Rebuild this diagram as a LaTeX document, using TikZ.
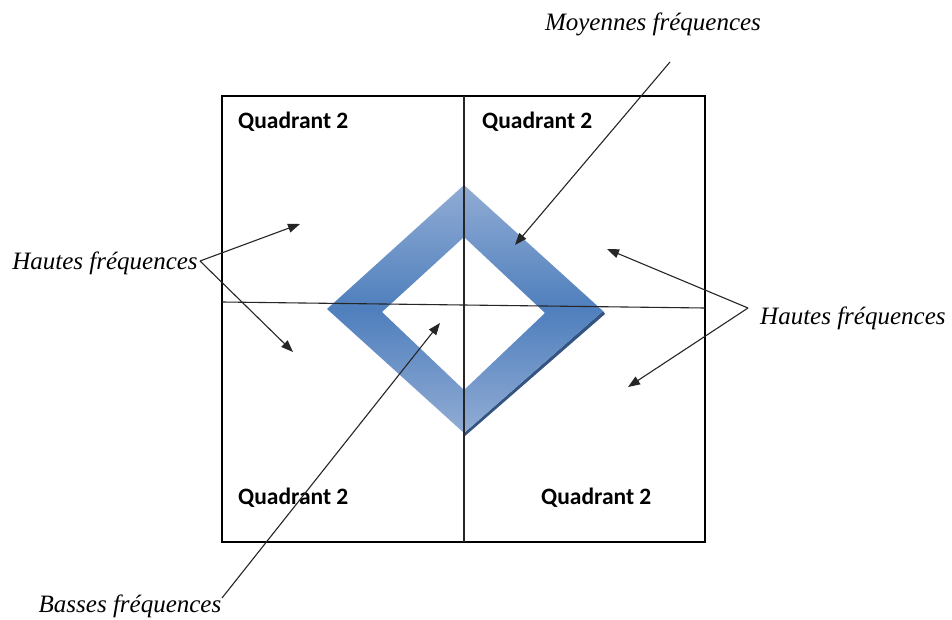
\documentclass[tikz,border=0pt]{standalone}
\usepackage{fontspec}
\setmainfont{Liberation Serif}
\newfontfamily\quadfont{Carlito}
\usetikzlibrary{arrows.meta}
\definecolor{ringlight}{RGB}{145,172,212}
\definecolor{ringdark}{RGB}{79,127,189}
\definecolor{ringshadow}{RGB}{52,84,130}
\tikzset{
  x=1pt, y=-1pt,
  frame/.style={draw=black, line width=1.1pt},
  axisline/.style={draw=black!85, line width=1.1pt},
  pointer/.style={draw=black!85, line width=1.1pt, -{Triangle[length=12pt,width=9pt]}},
  freqlabel/.style={inner sep=0pt, font=\fontsize{25}{30}\selectfont\itshape},
  quadlabel/.style={inner sep=0pt, font=\quadfont\bfseries\fontsize{23.5}{28}\selectfont, anchor=west}
}
\begin{document}
\begin{tikzpicture}
\useasboundingbox[fill=white] (0,0) rectangle (952,620);
% frame
\draw[frame] (222,96) rectangle (705,542);
% ring shadow
\fill[ringshadow] (603,311) -- (605,314) -- (465,436) -- (464,433) -- cycle;
% ring
\shade[top color=ringlight, bottom color=ringlight, middle color=ringdark, even odd rule]
  (464,185) -- (603,311) -- (464,433) -- (327,309) -- cycle
  (464,237) -- (545,313) -- (464,390) -- (382,312) -- cycle;
% axes
\draw[axisline] (464,96) -- (464,542);
\draw[axisline] (222,302) -- (705,308);
% quadrant labels
\node[quadlabel] (q1) at (238,122) {Quadrant 2};
\node[quadlabel] (q2) at (482,122) {Quadrant 2};
\node[quadlabel] (q3) at (238,498) {Quadrant 2};
\node[quadlabel] (q4) at (541,498) {Quadrant 2};
% frequency labels
\node[freqlabel] (moy) at (653,24) {Moyennes fréquences};
\node[freqlabel] (hautL) at (105,263) {Hautes fréquences};
\node[freqlabel, anchor=west] (hautR) at (760,318) {Hautes fréquences};
\node[freqlabel] (basses) at (130,606) {Basses fréquences};
% connector points
\coordinate (moyStart) at (670,62);
\coordinate (moyEnd) at (515,245);
\coordinate (hlStart) at (200,261);
\coordinate (hlUp) at (300,224);
\coordinate (hlDown) at (293,352);
\coordinate (hrStart) at (748,308);
\coordinate (hrUp) at (607,249);
\coordinate (hrDown) at (628,387);
\coordinate (bStart) at (222,598);
\coordinate (bEnd) at (440,323);
% connectors
\draw[pointer] (moyStart) -- (moyEnd);
\draw[pointer] (hlStart) -- (hlUp);
\draw[pointer] (hlStart) -- (hlDown);
\draw[pointer] (hrStart) -- (hrUp);
\draw[pointer] (hrStart) -- (hrDown);
\draw[pointer] (bStart) -- (bEnd);
\end{tikzpicture}
\end{document}
